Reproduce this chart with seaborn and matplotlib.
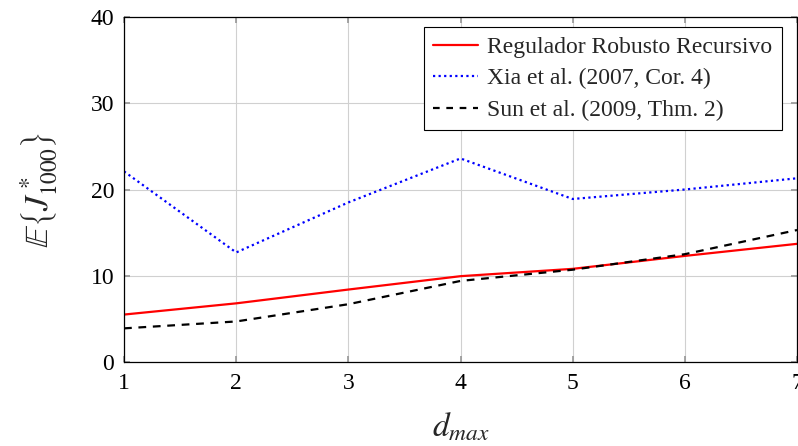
import matplotlib
matplotlib.use("Agg")
import matplotlib.pyplot as plt
import seaborn as sns
import pandas as pd

x = [1, 2, 3, 4, 5, 6, 7]
regulador = [5.5, 6.8, 8.4, 9.95, 10.8, 12.3, 13.7]
xia = [22.1, 12.7, 18.5, 23.6, 18.9, 20.0, 21.3]
sun = [3.9, 4.7, 6.7, 9.4, 10.7, 12.5, 15.3]
labels = ["Regulador Robusto Recursivo", "Xia et al. (2007, Cor. 4)", "Sun et al. (2009, Thm. 2)"]

sns.set_theme(style="white")
plt.rcParams['font.family'] = ['Liberation Serif', 'DejaVu Serif']
plt.rcParams['mathtext.fontset'] = 'stix'

fig = plt.figure(figsize=(7.98, 4.46), dpi=100)
ax = fig.add_axes([124/798, 1-362/446, (797-124)/798, (362-17)/446])

df = pd.DataFrame({"x": x * 3,
                   "y": regulador + xia + sun,
                   "s": [labels[0]] * 7 + [labels[1]] * 7 + [labels[2]] * 7})
sns.lineplot(data=df, x="x", y="y", hue="s", style="s",
             palette=["#ff0000", "#0000ff", "#000000"],
             dashes=[(None, None), (1, 1.5), (3, 3)], ax=ax, lw=1.6)
for ln, ls in zip(ax.lines[:3], ['-', (0, (1, 1.5)), (0, (3.5, 3))]):
    ln.set_linestyle(ls)

ax.set_xlim(1, 7)
ax.set_ylim(0, 40)
ax.set_xticks(x)
ax.set_yticks([0, 10, 20, 30, 40])
ax.grid(True, color="#d0d0d0", lw=0.8)
for s in ax.spines.values():
    s.set_color("black")
    s.set_linewidth(0.9)
ax.tick_params(direction="in", length=4, color="#999999", labelsize=17,
               top=True, right=True, bottom=True, left=True, labelcolor="black")
ax.tick_params(axis="x", pad=8)
ax.tick_params(axis="y", pad=7)
ax.set_xlabel(r"$d_{max}$", fontsize=24, labelpad=12)
ax.set_ylabel(r"$\mathbb{E}\left\{J^*_{1000}\right\}$", fontsize=24, labelpad=22)

h, l = ax.get_legend_handles_labels()
leg = ax.legend(h, labels, loc="upper right", fontsize=17, frameon=True, fancybox=False,
                edgecolor="black", framealpha=1, borderpad=0.4, handlelength=1.9,
                handletextpad=0.4, labelspacing=0.42, borderaxespad=0,
                bbox_to_anchor=(0.9777, 0.971))
leg.get_frame().set_linewidth(0.8)

fig.savefig("out.png", dpi=100)
